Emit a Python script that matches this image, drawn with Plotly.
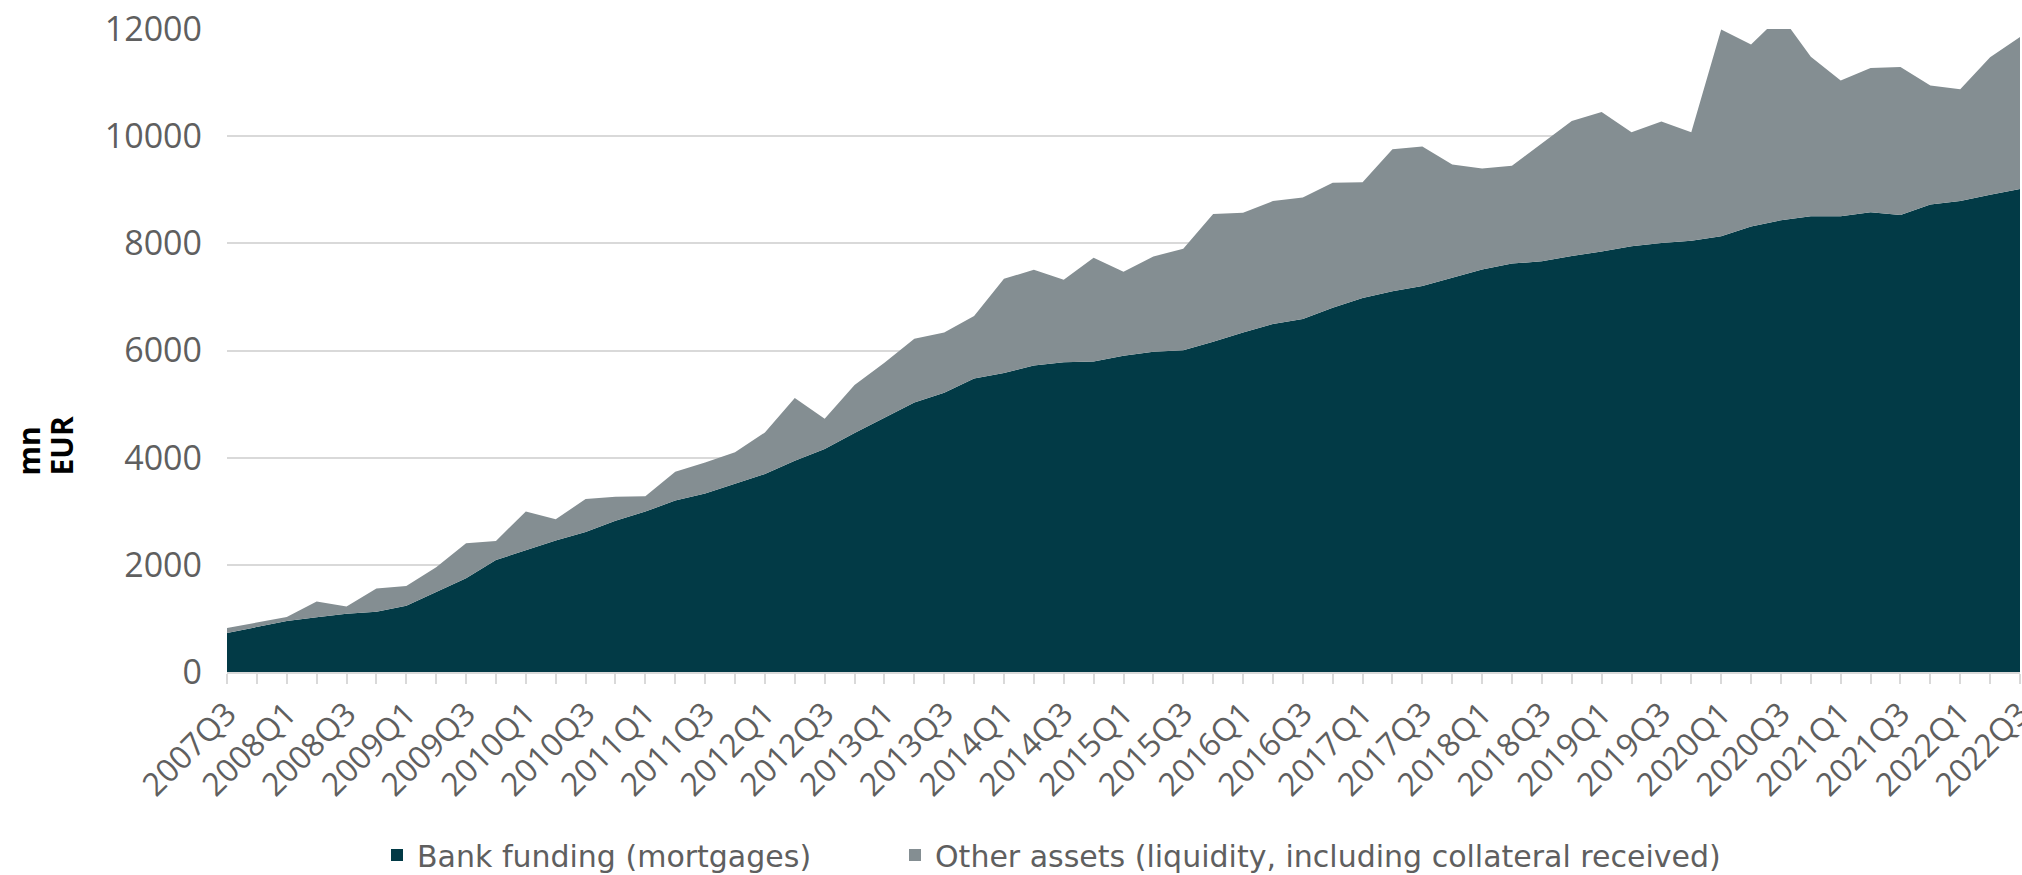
import plotly.graph_objects as go

# Quarterly observations, 2007Q3 - 2022Q3
quarters = [
    "2007Q3", "2007Q4",
    "2008Q1", "2008Q2", "2008Q3", "2008Q4",
    "2009Q1", "2009Q2", "2009Q3", "2009Q4",
    "2010Q1", "2010Q2", "2010Q3", "2010Q4",
    "2011Q1", "2011Q2", "2011Q3", "2011Q4",
    "2012Q1", "2012Q2", "2012Q3", "2012Q4",
    "2013Q1", "2013Q2", "2013Q3", "2013Q4",
    "2014Q1", "2014Q2", "2014Q3", "2014Q4",
    "2015Q1", "2015Q2", "2015Q3", "2015Q4",
    "2016Q1", "2016Q2", "2016Q3", "2016Q4",
    "2017Q1", "2017Q2", "2017Q3", "2017Q4",
    "2018Q1", "2018Q2", "2018Q3", "2018Q4",
    "2019Q1", "2019Q2", "2019Q3", "2019Q4",
    "2020Q1", "2020Q2", "2020Q3", "2020Q4",
    "2021Q1", "2021Q2", "2021Q3", "2021Q4",
    "2022Q1", "2022Q2", "2022Q3",
]

# mn EUR
bank_funding = [
    730, 845, 950, 1020, 1085, 1125, 1235, 1495, 1750, 2090,
    2278, 2452, 2615, 2822, 2994, 3200, 3330, 3519, 3694, 3944,
    4161, 4461, 4745, 5028, 5212, 5479, 5579, 5721, 5779, 5796,
    5904, 5979, 6004, 6163, 6338, 6496, 6590, 6796, 6980, 7105,
    7205, 7363, 7513, 7622, 7664, 7764, 7847, 7947, 8005, 8047,
    8131, 8314, 8431, 8506, 8506, 8581, 8531, 8723, 8789, 8906,
    9014,
]

other_assets = [
    90, 75, 75, 298, 137, 431, 368, 462, 652, 357,
    716, 398, 613, 449, 287, 536, 580, 584, 776, 1168,
    567, 893, 1026, 1193, 1126, 1167, 1759, 1784, 1543, 1934,
    1568, 1776, 1893, 2384, 2234, 2293, 2266, 2335, 2160, 2652,
    2602, 2110, 1885, 1826, 2201, 2518, 2602, 2127, 2269, 2027,
    3859, 3398, 3819, 2974, 2534, 2691, 2759, 2222, 2087, 2569,
    2836,
]

series_names = [
    "Bank funding (mortgages)",
    "Other assets (liquidity, including collateral received)",
]

DARK = "#023a46"
GREY = "#848e92"
GRID = "#d9d9d9"
TEXT = "#5f5f5f"
FONT = "Open Sans"
LEGEND_FONT = "DejaVu Sans"

PLOT_L, PLOT_W = 227, 1793
PLOT_B, PLOT_H = 672, 643

fig = go.Figure()

for vals, color in zip([bank_funding, other_assets], [DARK, GREY]):
    fig.add_trace(go.Scatter(
        x=quarters, y=vals, stackgroup="total", mode="lines",
        line=dict(width=0, color=color), fillcolor=color,
        showlegend=False, hoverinfo="x+y",
    ))

# square legend keys, one legend box per series
legend_ids = ["legend", "legend2"]
legend_left_px = [377, 895]
for name, color, lid in zip(series_names, [DARK, GREY], legend_ids):
    fig.add_trace(go.Scatter(
        x=[None], y=[None], mode="markers", name=name, legend=lid,
        marker=dict(symbol="square", size=17, color=color),
    ))

tick_text = [q if i % 2 == 0 else "" for i, q in enumerate(quarters)]

fig.update_xaxes(
    type="category", range=[0, len(quarters) - 1], automargin=False,
    tickmode="array", tickvals=quarters, ticktext=tick_text,
    tickangle=-45, ticks="outside", ticklen=10, tickwidth=2, tickcolor=GRID,
    showline=True, linecolor=GRID, linewidth=2, showgrid=False,
    tickfont=dict(family=FONT, size=32, color=TEXT),
    ticklabelstandoff=-2,
)
fig.update_yaxes(
    range=[0, 12000], dtick=2000, tickformat="d", automargin=False,
    showgrid=True, gridcolor=GRID, gridwidth=2,
    zeroline=False, showline=False,
    tickfont=dict(family=FONT, size=34, color=TEXT),
    ticklabelstandoff=24,
)

for txt, xpx in [("mn", 28), ("EUR", 61)]:
    fig.add_annotation(
        text="<b>" + txt + "</b>", textangle=-90, showarrow=False,
        xref="paper", yref="paper",
        x=(xpx - PLOT_L) / PLOT_W, y=(PLOT_B - 478) / PLOT_H,
        xanchor="center", yanchor="bottom",
        font=dict(family=FONT, size=30, color="#000000"),
    )

legend_style = dict(
    orientation="h", xanchor="left",
    y=(PLOT_B - 855) / PLOT_H, yanchor="middle",
    font=dict(family=LEGEND_FONT, size=30, color=TEXT),
    itemsizing="constant", bgcolor="rgba(0,0,0,0)",
)

fig.update_layout(
    width=2022, height=875,
    margin=dict(l=PLOT_L, r=2, t=29, b=875 - PLOT_B, autoexpand=False),
    paper_bgcolor="white", plot_bgcolor="white",
    font=dict(family=FONT, color=TEXT),
    legend=dict(x=(legend_left_px[0] - PLOT_L) / PLOT_W, **legend_style),
    legend2=dict(x=(legend_left_px[1] - PLOT_L) / PLOT_W, **legend_style),
)

fig.write_html("out.html")
